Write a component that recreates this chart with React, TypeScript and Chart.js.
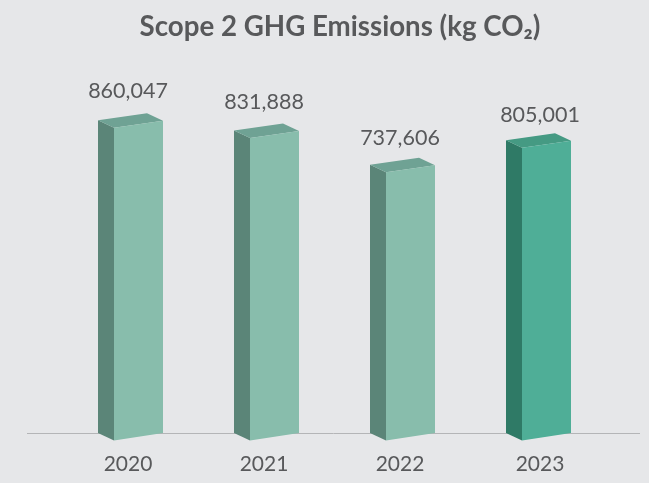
import React, { useEffect, useRef } from "react";
import { Chart, registerables } from "chart.js";

Chart.register(...registerables);

const categories = ["2020", "2021", "2022", "2023"];
const emissions = [860047, 831888, 737606, 805001];
const frontColors = ["#88bdac", "#88bdac", "#88bdac", "#4fae97"];
const sideColors = ["#5b8578", "#5b8578", "#5b8578", "#2f7a66"];
const topColors = ["#6fa294", "#6fa294", "#6fa294", "#459a83"];
const labelNudge = [-2.5, -2.5, -2.5, 1.5];
const labelLift = [29, 28, 27, 25];

const TEXT = "#58595b";
const FONT = "Lato";
const DEPTH_X = 16;
const DEPTH_Y = 7.5;
const SKEW = 7;

function poly(ctx: CanvasRenderingContext2D, pts: number[][], color: string) {
  ctx.beginPath();
  pts.forEach(([x, y], i) => (i ? ctx.lineTo(x, y) : ctx.moveTo(x, y)));
  ctx.closePath();
  ctx.fillStyle = color;
  ctx.fill();
}

const bars3d = {
  id: "bars3d",
  afterLayout(chart: any) {
    chart.titleBlock.left += 11;
  },
  beforeDatasetDraw(chart: any, args: any) {
    const ctx: CanvasRenderingContext2D = chart.ctx;
    const base = chart.scales.y.getPixelForValue(0);
    ctx.save();
    ctx.strokeStyle = "#b4b5b7";
    ctx.lineWidth = 1;
    ctx.beginPath();
    ctx.moveTo(27, base + 0.5);
    ctx.lineTo(640, base + 0.5);
    ctx.stroke();
    args.meta.data.forEach((el: any, i: number) => {
      const l = el.x - el.width / 2;
      const r = el.x + el.width / 2;
      const t = el.y;
      const fx = l + DEPTH_X;
      poly(ctx, [[l, t], [fx, t + DEPTH_Y], [fx, base + DEPTH_Y], [l, base]], sideColors[i]);
      poly(ctx, [[l, t], [r - DEPTH_X, t - SKEW], [r, t + DEPTH_Y - SKEW], [fx, t + DEPTH_Y]], topColors[i]);
      poly(ctx, [[fx, t + DEPTH_Y], [r, t + DEPTH_Y - SKEW], [r, base], [fx, base + DEPTH_Y]], frontColors[i]);
      ctx.fillStyle = TEXT;
      ctx.font = `400 21.5px ${FONT}`;
      ctx.textAlign = "center";
      ctx.textBaseline = "middle";
      ctx.fillText(emissions[i].toLocaleString("en-US"), el.x + labelNudge[i], t - labelLift[i]);
    });
    ctx.restore();
    return false;
  },
};

export default function App() {
  const ref = useRef<HTMLCanvasElement>(null);
  useEffect(() => {
    document.body.style.background = "#e6e7e9";
    const chart = new Chart(ref.current!, {
      type: "bar",
      data: {
        labels: categories,
        datasets: [{ data: emissions, backgroundColor: frontColors, barThickness: 65 }],
      },
      plugins: [bars3d],
      options: {
        animation: false,
        responsive: false,
        layout: { padding: { left: 62.5, right: 42.5, top: 10, bottom: 0 } },
        plugins: {
          legend: { display: false },
          tooltip: { enabled: false },
          title: {
            display: true,
            text: "Scope 2 GHG Emissions (kg CO₂)",
            color: TEXT,
            font: { family: FONT, size: 27.7, weight: "bold" },
            padding: { top: 0, bottom: 26 },
          },
        },
        scales: {
          x: {
            grid: { display: false },
            border: { display: false },
            ticks: { color: TEXT, font: { family: FONT, size: 21 }, padding: 11, maxRotation: 0 },
            afterFit: (scale: any) => {
              scale.height = 50;
            },
            afterBuildTicks: (scale: any) => {
              const pixelForTick = scale.getPixelForTick.bind(scale);
              scale.getPixelForTick = (i: number) => pixelForTick(i) + (labelNudge[i] ?? 0);
            },
          },
          y: { display: false, min: 0, max: 1000000 },
        },
      },
    });
    return () => chart.destroy();
  }, []);
  return (
    <canvas
      ref={ref}
      width={649}
      height={483}
      style={{ position: "absolute", left: 0, top: 0, width: 649, height: 483, background: "#e6e7e9" }}
    />
  );
}
